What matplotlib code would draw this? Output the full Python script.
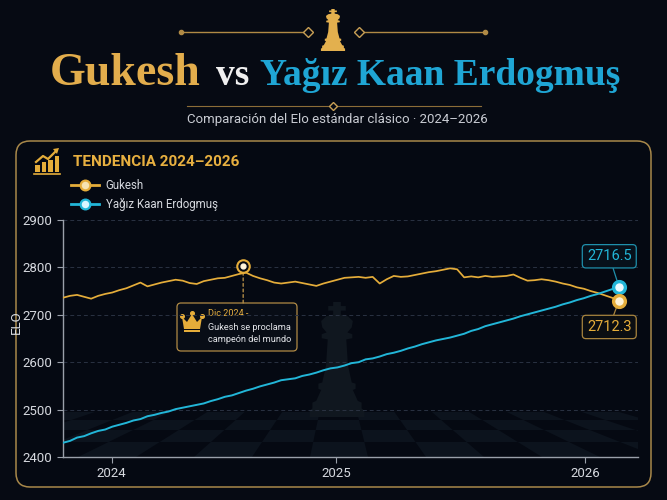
import matplotlib
matplotlib.use("Agg")
import matplotlib.pyplot as plt
from matplotlib.patches import FancyBboxPatch, Polygon, Rectangle
from matplotlib.lines import Line2D
import numpy as np

# ---- data ----
gukesh = [2736, 2740, 2742, 2738, 2734, 2740, 2744, 2747, 2752, 2756,
          2762, 2768, 2760, 2764, 2768, 2771, 2774, 2772, 2767, 2765,
          2771, 2774, 2777, 2778, 2782, 2786, 2789, 2782, 2777, 2773,
          2768, 2766, 2768, 2770, 2767, 2764, 2761, 2766, 2770, 2774,
          2778, 2779, 2780, 2778, 2780, 2766, 2775, 2782, 2780, 2781,
          2784, 2787, 2790, 2792, 2795, 2798, 2796, 2779, 2781, 2779,
          2782, 2780, 2781, 2782, 2785, 2778, 2772, 2773, 2775, 2773,
          2770, 2766, 2763, 2758, 2755, 2750, 2746, 2741, 2736, 2730]
erdogmus = [2430, 2434, 2441, 2444, 2450, 2455, 2458, 2464, 2468, 2472,
            2477, 2480, 2486, 2489, 2493, 2496, 2501, 2504, 2507, 2510,
            2513, 2518, 2522, 2527, 2530, 2535, 2540, 2544, 2549, 2553,
            2557, 2562, 2564, 2566, 2571, 2574, 2578, 2583, 2587, 2589,
            2593, 2598, 2600, 2606, 2608, 2612, 2617, 2620, 2624, 2629,
            2633, 2638, 2642, 2646, 2649, 2652, 2656, 2660, 2666, 2670,
            2676, 2680, 2684, 2688, 2692, 2697, 2701, 2705, 2709, 2713,
            2717, 2722, 2726, 2731, 2735, 2740, 2744, 2749, 2754, 2759]
periods = np.arange(len(gukesh))

year_labels = ["2024", "2025", "2026"]
year_pos = [6.9, 38.8, 74.2]          # period index where each year starts

event_x = 25.6
event_elo = 2803
event_lines = ["Dic 2024 -", "Gukesh se proclama", "campeón del mundo"]

last_gukesh_label = "2712.3"
last_erdogmus_label = "2716.5"

GOLD = "#e5ad3a"
CYAN = "#22b6d8"
BG = "#060a13"
TXT = "#d6d9df"

# half outline of a king piece, (x, y) with y going down, height 1
KING_HALF = [(0.0, 0.0), (0.035, 0.0), (0.035, 0.035), (0.08, 0.035), (0.08, 0.075),
             (0.035, 0.075), (0.035, 0.11), (0.10, 0.125), (0.145, 0.165),
             (0.135, 0.22), (0.095, 0.265), (0.14, 0.28), (0.14, 0.315),
             (0.085, 0.325), (0.10, 0.55), (0.135, 0.70), (0.17, 0.71),
             (0.17, 0.755), (0.145, 0.765), (0.19, 0.86), (0.225, 0.875),
             (0.225, 0.925), (0.25, 0.945), (0.25, 1.0), (0.0, 1.0)]


def draw_king(axis, cx, top, height, xscale, color, zorder=1):
    right = [(cx + x * height * xscale, top + y * height) for x, y in KING_HALF]
    left = [(cx - x * height * xscale, top + y * height) for x, y in KING_HALF[::-1]]
    axis.add_patch(Polygon(right + left, closed=True, color=color, lw=0, zorder=zorder))


W, H = 667, 500
fig = plt.figure(figsize=(W / 100, H / 100), dpi=100, facecolor=BG)

# background axes in pixel coords (origin top-left)
bg = fig.add_axes([0, 0, 1, 1], zorder=0)
bg.set_xlim(0, W)
bg.set_ylim(H, 0)
bg.axis("off")

# top ornament
bg.plot([181, 304], [32, 32], color="#b08a45", lw=1)
bg.plot([364, 485], [32, 32], color="#b08a45", lw=1)
bg.plot([181, 485], [32, 32], "o", color="#b08a45", ms=3)
bg.plot([308, 359], [32, 32], "D", mfc=BG, mec="#c9a055", ms=5, mew=1)
draw_king(bg, 333, 9, 42, 1.15, "#e3b04e", zorder=2)

# title
bg.text(50, 85, "Gukesh", ha="left", va="baseline", fontsize=33,
        fontweight="bold", color="#e2ad4c", family="Liberation Serif")
bg.text(233, 85, "vs", ha="center", va="baseline", fontsize=27,
        fontweight="bold", color="#f0f0f0", family="Liberation Serif")
bg.text(620, 85, "Yağız Kaan Erdogmuş", ha="right", va="baseline", fontsize=27,
        fontweight="bold", color="#1fa6d5", family="Liberation Serif")

bg.plot([187, 481], [106, 106], color="#8c6d38", lw=0.8)
bg.plot([333], [106], "D", mfc=BG, mec="#c9a055", ms=4.5, mew=1)
bg.text(337, 120, "Comparación del Elo estándar clásico · 2024–2026",
        ha="center", va="center", fontsize=9.5, color="#c9ccd3", family="Roboto")

# panel
bg.add_patch(FancyBboxPatch((16, 141), 635, 346,
                            boxstyle="round,pad=0,rounding_size=14",
                            fc="#050912", ec="#a8884a", lw=1.1, zorder=0.5))

# header icon (bars + arrow)
for bx, top in zip([35, 41.5, 48, 54.5], [165, 162, 160, 156]):
    bg.add_patch(Rectangle((bx, top), 4.5, 172 - top, color=GOLD, lw=0))
bg.plot([34, 60], [173.5, 173.5], color=GOLD, lw=1.2)
bg.plot([36, 43, 48, 56], [162, 156, 159, 151], color=GOLD, lw=1.6)
bg.add_patch(Polygon([[59, 148], [53, 149], [57, 154]], color=GOLD, lw=0))
bg.text(73, 162, "TENDENCIA 2024–2026", ha="left", va="center", fontsize=11,
        fontweight="bold", color="#e8b040", family="Roboto")

# faint chess floor, clipped to the plot area
clip = Rectangle((63, 380), 575, 77, transform=bg.transData)
vx, vy = 337, 330
rows = [412, 420, 430, 442, 457]
cols = np.arange(-560, 1240, 58)


def xat(xb, y):
    return vx + (xb - vx) * (y - vy) / (457 - vy)


for r in range(len(rows) - 1):
    y0, y1 = rows[r], rows[r + 1]
    for c in range(len(cols) - 1):
        if (r + c) % 2:
            continue
        poly = [[xat(cols[c], y0), y0], [xat(cols[c + 1], y0), y0],
                [xat(cols[c + 1], y1), y1], [xat(cols[c], y1), y1]]
        p = Polygon(poly, color="#0c131d", lw=0, zorder=1)
        bg.add_patch(p)
        p.set_clip_path(clip)

# faint king silhouette
draw_king(bg, 337, 302, 115, 0.95, "#10171f", zorder=1.5)

# annotation box with crown
bg.add_patch(FancyBboxPatch((177, 303), 120, 48,
                            boxstyle="round,pad=0,rounding_size=4",
                            fc="#080d16", ec="#b08a45", lw=0.9, zorder=3))
crown = [[184, 329], [182, 317], [187, 322], [192, 314], [197, 322],
         [202, 317], [200, 329]]
bg.add_patch(Polygon(crown, color=GOLD, lw=0, zorder=4))
bg.add_patch(Rectangle((184, 330), 16, 2.2, color=GOLD, lw=0, zorder=4))
bg.plot([182, 192, 202], [316, 313, 316], "o", color=GOLD, ms=2.6, zorder=4)
bg.text(208, 314, event_lines[0], ha="left", va="center", fontsize=6.6,
        color="#e8b040", family="Roboto", zorder=4)
bg.text(208, 327, event_lines[1], ha="left", va="center", fontsize=6.6,
        color="#e4e6ea", family="Roboto", zorder=4)
bg.text(208, 340, event_lines[2], ha="left", va="center", fontsize=6.6,
        color="#e4e6ea", family="Roboto", zorder=4)

# ---- main chart ----
ax = fig.add_axes([63 / W, 1 - 457 / H, 575 / W, 237 / H], zorder=1)
ax.set_facecolor("none")
ax.set_xlim(0, 81.7)
ax.set_ylim(2400, 2900)

ax.plot(periods, gukesh, color=GOLD, lw=1.25, zorder=3)
ax.plot(periods, erdogmus, color=CYAN, lw=1.4, zorder=3)

ax.set_yticks([2400, 2500, 2600, 2700, 2800, 2900])
ax.set_xticks(year_pos)
ax.set_xticklabels(year_labels)
ax.grid(True, axis="y", color="#2a3242", lw=0.7, linestyle=(0, (4, 3)))
for s in ["top", "right"]:
    ax.spines[s].set_visible(False)
for s in ["left", "bottom"]:
    ax.spines[s].set_color("#9aa0aa")
    ax.spines[s].set_linewidth(1)
ax.tick_params(colors="#9aa0aa", labelcolor=TXT, labelsize=9.5, length=4)
for lab in ax.get_xticklabels() + ax.get_yticklabels():
    lab.set_family("Roboto")
ax.set_ylabel("ELO", color=TXT, fontsize=9.5, family="Roboto")
ax.yaxis.set_label_coords(-0.07, 0.57)

# event marker
ax.annotate("", xy=(event_x, event_elo), xycoords="data",
            xytext=(event_x, 0.65), textcoords=("data", "axes fraction"),
            arrowprops=dict(arrowstyle="-", color="#b08a45", lw=1,
                            linestyle=(0, (2, 2)), shrinkA=0, shrinkB=4),
            zorder=2)
ax.plot(event_x, event_elo, "o", ms=9, mfc=BG, mec=GOLD, mew=1.5, zorder=5)
ax.plot(event_x, event_elo, "o", ms=3.5, color="#fff4dc", zorder=6)

# end markers + value labels
lx = periods[-1]
ax.annotate(last_erdogmus_label, xy=(lx, erdogmus[-1]), xytext=(-7, 22),
            textcoords="offset points", ha="center", va="center",
            fontsize=10.5, color=CYAN, family="Roboto",
            bbox=dict(boxstyle="round,pad=0.32,rounding_size=0.25",
                      fc="#07111b", ec="#1f8fab", lw=0.9),
            arrowprops=dict(arrowstyle="-", color="#1f8fab", lw=0.9,
                            shrinkA=0, shrinkB=4), zorder=6)
ax.annotate(last_gukesh_label, xy=(lx, gukesh[-1]), xytext=(-7, -19),
            textcoords="offset points", ha="center", va="center",
            fontsize=10.5, color=GOLD, family="Roboto",
            bbox=dict(boxstyle="round,pad=0.32,rounding_size=0.25",
                      fc="#0b0e12", ec="#a8843e", lw=0.9),
            arrowprops=dict(arrowstyle="-", color="#a8843e", lw=0.9,
                            shrinkA=0, shrinkB=4), zorder=6)
ax.plot(lx, erdogmus[-1], "o", ms=8.5, mfc="#eafaff", mec=CYAN, mew=2.4, zorder=7)
ax.plot(lx, gukesh[-1], "o", ms=8.5, mfc="#fff3d6", mec=GOLD, mew=2.4, zorder=7)

# legend
handles = [Line2D([], [], color=GOLD, lw=2, marker="o", ms=7, mfc="#f6e3b0",
                  mec=GOLD, mew=1.6),
           Line2D([], [], color=CYAN, lw=2, marker="o", ms=7, mfc="#d9f6ff",
                  mec=CYAN, mew=1.6)]
leg = ax.legend(handles, ["Gukesh", "Yağız Kaan Erdogmuş"], loc="upper left",
                bbox_to_anchor=(71 / W, 1 - 179 / H), bbox_transform=fig.transFigure,
                frameon=False, fontsize=8.3, handlelength=2.4, handletextpad=0.6,
                labelspacing=0.5, borderpad=0, borderaxespad=0)
for t in leg.get_texts():
    t.set_color(TXT)
    t.set_family("Roboto")

fig.savefig("out.png", dpi=100, facecolor=BG)
